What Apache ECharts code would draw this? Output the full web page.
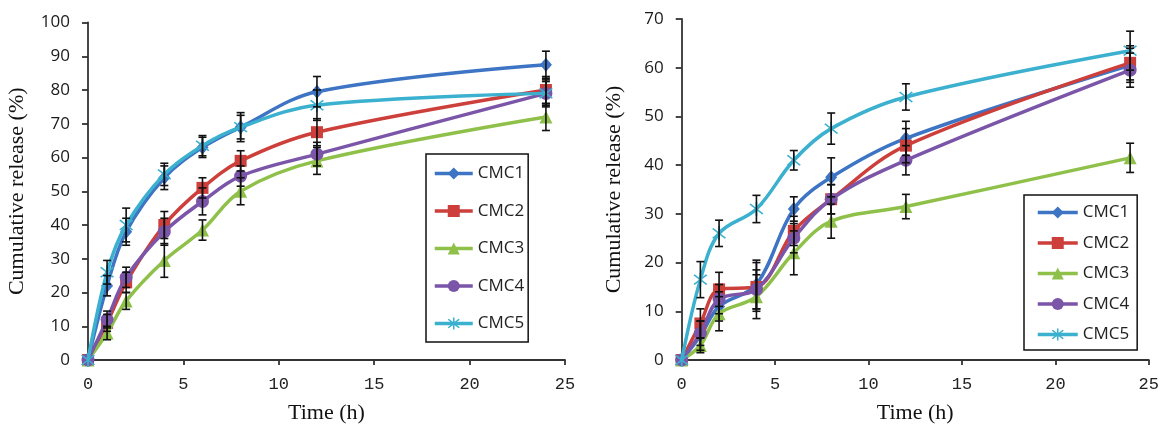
<!DOCTYPE html>
<html>
<head>
<meta charset="utf-8">
<script src="https://cdn.jsdelivr.net/npm/echarts@6/dist/echarts.min.js"></script>
<style>
  html, body { margin: 0; padding: 0; background: #fff; }
  #chart { width: 1162px; height: 429px; }
</style>
</head>
<body>
<div id="chart"></div>
<script>
// sampling times (h)
var time = [0, 1, 2, 4, 6, 8, 12, 24];
var names = ['CMC1', 'CMC2', 'CMC3', 'CMC4', 'CMC5'];

// left panel: cumulative release (%)
var leftCMC1 = [0, 22, 38, 54, 63, 69, 79.5, 87.5];
var leftCMC2 = [0, 11, 23, 40, 51, 59, 67.5, 80];
var leftCMC3 = [0, 8, 17.5, 29.5, 38.5, 50, 59, 72];
var leftCMC4 = [0, 12, 24.5, 38, 47, 54.5, 61, 79];
var leftCMC5 = [0, 26, 40, 55, 63.5, 69, 75.5, 79];
// left panel: error (±)
var leftErr1 = [0, 3, 4, 3.5, 3, 3.5, 4.5, 4];
var leftErr2 = [0, 2.5, 3, 4, 3, 3, 4, 4];
var leftErr3 = [0, 2, 2.5, 5, 3, 4, 4, 4];
var leftErr4 = [0, 2.5, 3, 4, 4, 3, 3.5, 3.5];
var leftErr5 = [0, 3.5, 5, 3.3, 3, 4.3, 4.5, 4];

// right panel: cumulative release (%)
var rightCMC1 = [0, 5, 11, 15.5, 31, 37.5, 45.5, 60.5];
var rightCMC2 = [0, 7.5, 14.5, 15, 26.5, 33, 44, 61];
var rightCMC3 = [0, 3, 9.5, 13, 22, 28.5, 31.5, 41.5];
var rightCMC4 = [0, 5.5, 12.5, 14.5, 25, 33, 41, 59.5];
var rightCMC5 = [0, 16.5, 26, 31, 41, 47.5, 54, 63.5];
// right panel: error (±)
var rightErr1 = [0, 3, 3, 5, 2.5, 4, 3.5, 3.5];
var rightErr2 = [0, 3, 3.5, 5, 3, 3, 3.5, 3.5];
var rightErr3 = [0, 1.5, 3.5, 4.5, 4.5, 3.5, 2.5, 3];
var rightErr4 = [0, 2.5, 3, 4, 3, 3, 3, 3.5];
var rightErr5 = [0, 3.7, 2.7, 2.8, 2, 3.2, 2.7, 4];

var colors = ['#3D74C4', '#CC3F3B', '#8FC04A', '#7A55A8', '#3BB0CF'];
var starPath = 'path://M-1,-10L1,-10L1,10L-1,10Z' +
  'M6.36,-7.78L7.78,-6.36L-6.36,7.78L-7.78,6.36Z' +
  'M-7.78,-6.36L-6.36,-7.78L7.78,6.36L6.36,7.78Z';
var symbols = ['diamond', 'rect', 'triangle', 'circle', starPath];
var symbolSizes = [[12, 14], 12, 13, 13, 14];

var leftVals = [leftCMC1, leftCMC2, leftCMC3, leftCMC4, leftCMC5];
var leftErrs = [leftErr1, leftErr2, leftErr3, leftErr4, leftErr5];
var rightVals = [rightCMC1, rightCMC2, rightCMC3, rightCMC4, rightCMC5];
var rightErrs = [rightErr1, rightErr2, rightErr3, rightErr4, rightErr5];

function renderErr(params, api) {
  var x = api.value(0);
  var top = api.coord([x, api.value(2)]);
  var bot = api.coord([x, api.value(1)]);
  var w = 4;
  var st = { stroke: '#111', lineWidth: 1.6 };
  return {
    type: 'group',
    children: [
      { type: 'line', shape: { x1: top[0], y1: top[1], x2: bot[0], y2: bot[1] }, style: st },
      { type: 'line', shape: { x1: top[0] - w, y1: top[1], x2: top[0] + w, y2: top[1] }, style: st },
      { type: 'line', shape: { x1: bot[0] - w, y1: bot[1], x2: bot[0] + w, y2: bot[1] }, style: st }
    ]
  };
}

var series = [];
function addPanel(vals, errs, idx) {
  vals.forEach(function (v, i) {
    series.push({
      name: names[i],
      type: 'line',
      xAxisIndex: idx,
      yAxisIndex: idx,
      data: time.map(function (t, k) { return [t, v[k]]; }),
      smooth: 0.35,
      symbol: symbols[i],
      symbolSize: symbolSizes[i],
      lineStyle: { width: 3.5, color: colors[i] },
      itemStyle: { color: colors[i] },
      z: 2 + i
    });
  });
  vals.forEach(function (v, i) {
    var d = [];
    time.forEach(function (t, k) {
      if (errs[i][k] > 0) d.push([t, v[k] - errs[i][k], v[k] + errs[i][k]]);
    });
    series.push({
      name: 'err' + idx + i,
      type: 'custom',
      xAxisIndex: idx,
      yAxisIndex: idx,
      renderItem: renderErr,
      encode: { x: 0, y: [1, 2] },
      data: d,
      z: 10,
      silent: true
    });
  });
}
addPanel(leftVals, leftErrs, 0);
addPanel(rightVals, rightErrs, 1);

var axisLineStyle = { color: '#333', width: 1.8 };
function xAx(gi) {
  return {
    type: 'value', gridIndex: gi, min: 0, max: 25, interval: 5,
    name: 'Time (h)', nameLocation: 'middle', nameGap: 42,
    nameTextStyle: { fontFamily: 'Liberation Serif', fontSize: 22, color: '#111' },
    axisLine: { lineStyle: axisLineStyle },
    axisTick: { show: true, length: 5, lineStyle: axisLineStyle },
    axisLabel: { fontFamily: 'Liberation Mono', fontSize: 17, color: '#222', margin: 16 },
    splitLine: { show: false }
  };
}
function yAx(gi, max, gap) {
  return {
    type: 'value', gridIndex: gi, min: 0, max: max, interval: 10,
    name: 'Cumulative release (%)', nameLocation: 'middle', nameGap: gap,
    nameTextStyle: { fontFamily: 'Liberation Serif', fontSize: 22, color: '#111' },
    axisLine: { show: true, lineStyle: axisLineStyle },
    axisTick: { show: true, length: 6, lineStyle: axisLineStyle },
    axisLabel: { fontFamily: 'Open Sans', fontSize: 17, color: '#1a1a1a', margin: 18 },
    splitLine: { show: false }
  };
}

var legendText = { fontFamily: 'Open Sans', fontSize: 17, color: '#222' };
var chart = echarts.init(document.getElementById('chart'));
chart.setOption({
  animation: false,
  grid: [
    { left: 88, right: 597, top: 22.5, bottom: 66.5 },
    { left: 681.7, right: 9, top: 19, bottom: 66 }
  ],
  xAxis: [xAx(0), xAx(1)],
  yAxis: [yAx(0, 100, 60), yAx(1, 70, 56)],
  legend: [
    {
      data: names, orient: 'vertical', left: 426, top: 154,
      padding: [11, 4, 10, 7], itemGap: 20.5,
      itemWidth: 38, itemHeight: 15,
      lineStyle: { width: 3.5 },
      borderColor: '#111', borderWidth: 1.5, borderRadius: 0,
      textStyle: legendText
    },
    {
      data: names, orient: 'vertical', left: 1024, top: 195,
      padding: [9, 8, 7, 12], itemGap: 13.5,
      itemWidth: 40, itemHeight: 15,
      lineStyle: { width: 3.5 },
      borderColor: '#111', borderWidth: 1.5, borderRadius: 0,
      textStyle: legendText
    }
  ],
  series: series
});
</script>
</body>
</html>
